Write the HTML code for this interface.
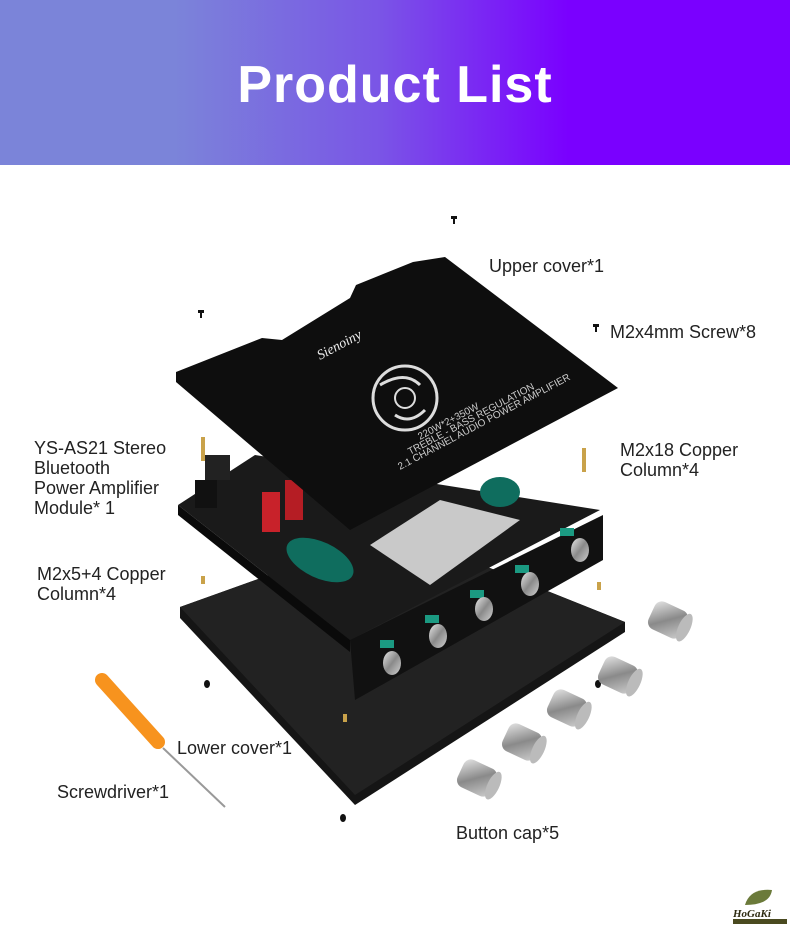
<!DOCTYPE html>
<html><head><meta charset="utf-8"><style>
html,body{margin:0;padding:0;background:#fff}
body{width:790px;height:936px;position:relative;overflow:hidden;font-family:"Liberation Sans",sans-serif}
.hdr{position:absolute;left:0;top:0;width:790px;height:165px;background:linear-gradient(90deg,#7b84d9 0%,#7b84d9 22%,#7a55e6 48%,#7a00ff 72%,#7a00ff 100%)}
.hdr h1{margin:0;position:absolute;left:0;right:0;top:52px;text-align:center;color:#fff;font-size:52px;font-weight:bold;letter-spacing:1px;line-height:66px}
.l{position:absolute;color:#222;font-size:18px;line-height:20px;white-space:nowrap}
</style></head><body>
<div class="hdr"><h1>Product List</h1></div>
<svg width="790" height="936" style="position:absolute;left:0;top:0">
<defs>
<linearGradient id="kn" x1="0" y1="0" x2="1" y2="1"><stop offset="0" stop-color="#e8e8e8"/><stop offset="0.5" stop-color="#8a8a8a"/><stop offset="1" stop-color="#d0d0d0"/></linearGradient>
</defs>
<!-- lower cover -->
<polygon points="180,607 395,530 625,622 625,632 355,805 180,618" fill="#151515"/>
<polygon points="180,607 395,530 625,622 355,795" fill="#222"/>
<!-- module PCB -->
<polygon points="178,505 255,455 600,510 350,640" fill="#1a1a1a"/>
<polygon points="178,505 178,515 350,652 350,640" fill="#0a0a0a"/>
<rect x="262" y="492" width="18" height="40" fill="#c8222a"/>
<rect x="285" y="480" width="18" height="40" fill="#b51d24"/>
<ellipse cx="320" cy="560" rx="36" ry="18" fill="#0f6d5e" transform="rotate(25 320 560)"/>
<ellipse cx="500" cy="492" rx="20" ry="15" fill="#0f6d5e"/>
<polygon points="370,545 440,500 520,520 430,585" fill="#c9c9c9"/>
<rect x="195" y="480" width="22" height="28" fill="#111"/>
<rect x="205" y="455" width="25" height="25" fill="#222"/>
<!-- front panel -->
<polygon points="350,640 603,515 603,560 355,700" fill="#111"/>
<g fill="#1b9a82"><rect x="380" y="640" width="14" height="8"/><rect x="425" y="615" width="14" height="8"/><rect x="470" y="590" width="14" height="8"/><rect x="515" y="565" width="14" height="8"/><rect x="560" y="528" width="14" height="8"/></g>
<g fill="url(#kn)"><ellipse cx="392" cy="663" rx="9" ry="12"/><ellipse cx="438" cy="636" rx="9" ry="12"/><ellipse cx="484" cy="609" rx="9" ry="12"/><ellipse cx="530" cy="584" rx="9" ry="12"/><ellipse cx="580" cy="550" rx="9" ry="12"/></g>
<!-- upper cover -->
<polygon points="176,372 262,338 282,340 350,298 356,285 413,262 445,257 618,388 350,530 176,382" fill="#0e0e0e"/>
<circle cx="405" cy="398" r="32" fill="none" stroke="#ddd" stroke-width="3"/>
<circle cx="405" cy="398" r="10" fill="none" stroke="#ddd" stroke-width="2"/>
<path d="M380 385 Q405 370 420 385 M395 415 Q410 425 425 410" stroke="#ddd" stroke-width="3" fill="none"/>
<text x="320" y="360" fill="#eee" font-size="14" font-style="italic" font-family="Liberation Serif" transform="rotate(-28 320 360)">Sienoiny</text>
<text x="420" y="440" fill="#ccc" font-size="10" transform="rotate(-28 420 440)">220W*2+350W</text>
<text x="410" y="455" fill="#ccc" font-size="10" transform="rotate(-28 410 455)">TREBLE - BASS REGULATION</text>
<text x="400" y="470" fill="#ccc" font-size="10" transform="rotate(-28 400 470)">2.1 CHANNEL AUDIO POWER AMPLIFIER</text>
<!-- screws and columns -->
<g fill="#111"><rect x="451" y="216" width="6" height="3"/><rect x="453" y="218" width="2" height="6"/>
<rect x="198" y="310" width="6" height="3"/><rect x="200" y="312" width="2" height="6"/>
<rect x="593" y="324" width="6" height="3"/><rect x="595" y="326" width="2" height="6"/>
<ellipse cx="207" cy="684" rx="3" ry="4"/><ellipse cx="343" cy="818" rx="3" ry="4"/><ellipse cx="598" cy="684" rx="3" ry="4"/></g>
<g fill="#c9a24a"><rect x="201" y="437" width="4" height="24"/><rect x="582" y="448" width="4" height="24"/><rect x="201" y="576" width="4" height="8"/><rect x="597" y="582" width="4" height="8"/><rect x="343" y="714" width="4" height="8"/></g>
<!-- knobs -->
<g>
<g transform="rotate(25 668 620)"><rect x="650" y="605" width="36" height="30" rx="8" fill="url(#kn)"/><ellipse cx="686" cy="620" rx="6" ry="15" fill="#bbb"/></g>
<g transform="rotate(25 618 675)"><rect x="600" y="660" width="36" height="30" rx="8" fill="url(#kn)"/><ellipse cx="636" cy="675" rx="6" ry="15" fill="#bbb"/></g>
<g transform="rotate(25 567 708)"><rect x="549" y="693" width="36" height="30" rx="8" fill="url(#kn)"/><ellipse cx="585" cy="708" rx="6" ry="15" fill="#bbb"/></g>
<g transform="rotate(25 522 742)"><rect x="504" y="727" width="36" height="30" rx="8" fill="url(#kn)"/><ellipse cx="540" cy="742" rx="6" ry="15" fill="#bbb"/></g>
<g transform="rotate(25 477 778)"><rect x="459" y="763" width="36" height="30" rx="8" fill="url(#kn)"/><ellipse cx="495" cy="778" rx="6" ry="15" fill="#bbb"/></g>
</g>
<!-- screwdriver -->
<line x1="163" y1="748" x2="225" y2="807" stroke="#999" stroke-width="2"/>
<line x1="102" y1="680" x2="158" y2="742" stroke="#f7931e" stroke-width="14" stroke-linecap="round"/>
<!-- logo -->
<path d="M745 905 Q750 888 772 890 Q770 905 745 905Z" fill="#6b7a3a"/>
<text x="733" y="917" font-size="11" font-weight="bold" font-style="italic" fill="#2d2a10" font-family="Liberation Serif">HoGaKi</text>
<rect x="733" y="919" width="54" height="5" fill="#4a4a20"/>
</svg>
<div class="l" style="left:489px;top:256px">Upper cover*1</div>
<div class="l" style="left:610px;top:322px">M2x4mm Screw*8</div>
<div class="l" style="left:34px;top:438px">YS-AS21 Stereo<br>Bluetooth<br>Power Amplifier<br>Module* 1</div>
<div class="l" style="left:620px;top:440px">M2x18 Copper<br>Column*4</div>
<div class="l" style="left:37px;top:564px">M2x5+4 Copper<br>Column*4</div>
<div class="l" style="left:177px;top:738px">Lower cover*1</div>
<div class="l" style="left:57px;top:782px">Screwdriver*1</div>
<div class="l" style="left:456px;top:823px">Button cap*5</div>
</body></html>
